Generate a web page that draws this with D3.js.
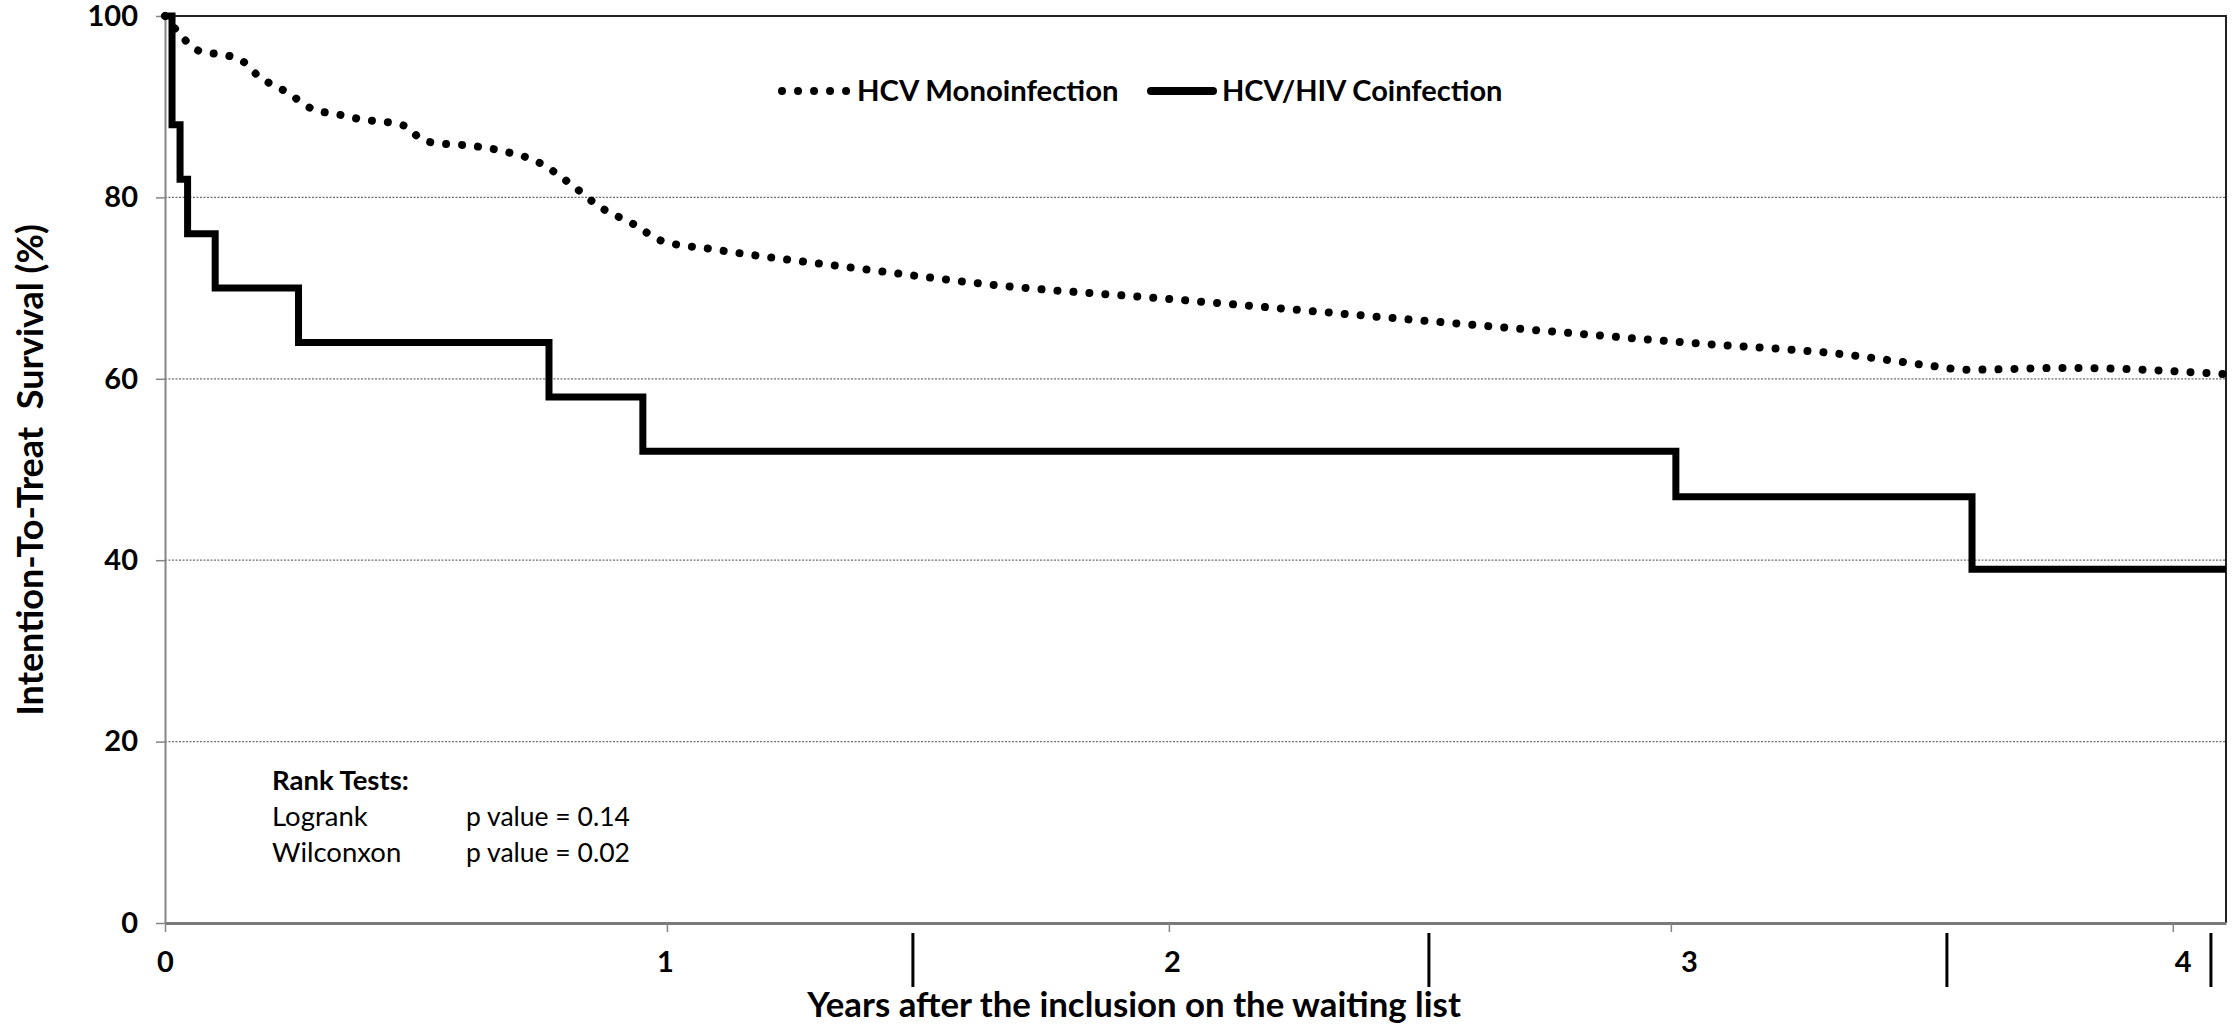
<!DOCTYPE html>
<html><head><meta charset="utf-8">
<script src="https://cdn.jsdelivr.net/npm/d3@7"></script>
<style>
body{margin:0;background:#fff}
svg{display:block}
text{font-family:Lato,'Open Sans',sans-serif;fill:#000}
</style>
</head><body>
<svg id="chart" width="2236" height="1027"></svg>
<script>
// ---- data ----
const monoYears = [0, 0.014, 0.030, 0.048, 0.076, 0.108, 0.139, 0.165, 0.185, 0.215, 0.243, 0.269, 0.295, 0.327, 0.359, 0.390, 0.422, 0.454, 0.484, 0.508, 0.538, 0.61, 0.665, 0.75, 0.81, 0.865, 0.935, 0.99, 1.09, 1.376, 1.66, 2.0, 2.51, 3.03, 3.36, 3.51, 3.59, 3.79, 4.106];
const monoSurvival = [100, 99.0, 98.0, 96.9, 96.0, 95.8, 95.4, 94.6, 93.4, 92.4, 91.6, 90.6, 89.7, 89.3, 89.0, 88.6, 88.4, 88.2, 87.7, 86.5, 86.0, 85.7, 85.2, 83.7, 81.4, 79.0, 77.0, 75.2, 74.3, 72.2, 70.3, 68.8, 66.4, 64.0, 62.6, 61.5, 61.0, 61.2, 60.5];
const coinfYears = [0, 0.014, 0.030, 0.045, 0.100, 0.266, 0.765, 0.952, 3.01, 3.60, 4.106];
const coinfSurvival = [100, 88, 82, 76, 70, 64, 58, 52, 47, 39, 39];
const yTicks = [0, 20, 40, 60, 80, 100];
const xTicks = [0, 1, 2, 3, 4];
const xTickLabels = ["0", "1", "2", "3", "4"];
const markerYears = [1.49, 2.518, 3.55, 4.076];
const legendLabels = ["HCV Monoinfection", "HCV/HIV Coinfection"];
const rankTitle = "Rank Tests:";
const rankNames = ["Logrank", "Wilconxon"];
const rankValues = ["p value = 0.14", "p value = 0.02"];
const xTitle = "Years after the inclusion on the waiting list";
const yTitle = "Intention-To-Treat  Survival (%)";

// ---- layout ----
const L = 165, R = 2226, T = 16, B = 923;
const svg = d3.select("#chart");
const x = d3.scaleLinear().domain([0, 4.106]).range([L, R]);
const y = d3.scaleLinear().domain([0, 100]).range([B, T]);

// gridlines
svg.append("g").selectAll("line").data(yTicks.filter(d => d > 0 && d < 100)).join("line")
  .attr("x1", L).attr("x2", R).attr("y1", d => y(d)).attr("y2", d => y(d))
  .attr("stroke", "#6e6e6e").attr("stroke-width", 1.3).attr("stroke-dasharray", "2,1.5");

// plot border top/right
svg.append("path").attr("d", `M${L},${y(100)}H${R}V${B}`)
  .attr("fill", "none").attr("stroke", "#222").attr("stroke-width", 2);

// y axis
const gy = svg.append("g").attr("transform", `translate(${L},0)`)
  .call(d3.axisLeft(y).tickValues(yTicks).tickSize(9).tickSizeOuter(0).tickPadding(18));
gy.select(".domain").attr("stroke", "#858585").attr("stroke-width", 2);
gy.selectAll(".tick line").attr("stroke", "#858585").attr("stroke-width", 1.5);
gy.selectAll(".tick text").attr("font-size", 29).attr("font-weight", 700)
  .attr("font-family", "Lato,'Open Sans',sans-serif").attr("fill", "#000");

// x axis
const gx = svg.append("g").attr("transform", `translate(0,${B})`)
  .call(d3.axisBottom(x).tickValues(xTicks).tickSize(9).tickSizeOuter(0).tickFormat((d, i) => xTickLabels[i]));
gx.select(".domain").attr("stroke", "#7a7a7a").attr("stroke-width", 3);
gx.selectAll(".tick line").attr("stroke", "#858585").attr("stroke-width", 1.5);
const labelShift = [0, -2, 3, 18, 10];
gx.selectAll(".tick text").attr("font-size", 29).attr("font-weight", 700)
  .attr("font-family", "Lato,'Open Sans',sans-serif").attr("fill", "#000")
  .attr("y", 39).attr("dy", "0.35em").attr("dx", (d, i) => labelShift[i]);

// marker bars below axis
svg.append("g").selectAll("line").data(markerYears).join("line")
  .attr("x1", d => x(d)).attr("x2", d => x(d)).attr("y1", B + 10).attr("y2", B + 64)
  .attr("stroke", "#000").attr("stroke-width", 3);

// curves
const mono = monoYears.map((t, i) => [t, monoSurvival[i]]);
const coinf = coinfYears.map((t, i) => [t, coinfSurvival[i]]);
const lineMono = d3.line().x(d => x(d[0])).y(d => y(d[1])).curve(d3.curveMonotoneX);
const lineCoinf = d3.line().x(d => x(d[0])).y(d => y(d[1])).curve(d3.curveStepAfter);

svg.append("path").datum(coinf).attr("d", lineCoinf)
  .attr("fill", "none").attr("stroke", "#000").attr("stroke-width", 7)
  .attr("stroke-linejoin", "miter");
svg.append("path").datum(mono).attr("d", lineMono)
  .attr("fill", "none").attr("stroke", "#000").attr("stroke-width", 8)
  .attr("stroke-linecap", "round").attr("stroke-dasharray", "0.01,16");

// legend
const leg = svg.append("g");
leg.append("line").attr("x1", 782).attr("x2", 848).attr("y1", 91).attr("y2", 91)
  .attr("stroke", "#000").attr("stroke-width", 8).attr("stroke-linecap", "round")
  .attr("stroke-dasharray", "0.01,16");
leg.append("text").attr("x", 857).attr("y", 91).attr("dy", "0.35em")
  .attr("font-size", 29.3).attr("font-weight", 700).text(legendLabels[0]);
leg.append("line").attr("x1", 1151).attr("x2", 1213).attr("y1", 91).attr("y2", 91)
  .attr("stroke", "#000").attr("stroke-width", 8).attr("stroke-linecap", "round");
leg.append("text").attr("x", 1222).attr("y", 91).attr("dy", "0.35em")
  .attr("font-size", 29).attr("font-weight", 700).text(legendLabels[1]);

// rank tests text
const rk = svg.append("g");
rk.append("text").attr("x", 272).attr("y", 790).attr("font-size", 27.5).attr("font-weight", 700).text(rankTitle);
rk.selectAll("text.n").data(rankNames).join("text").attr("class", "n")
  .attr("x", 272).attr("y", (d, i) => 826 + i * 35.5).attr("font-size", 27.5).text(d => d);
rk.selectAll("text.v").data(rankValues).join("text").attr("class", "v")
  .attr("x", 466).attr("y", (d, i) => 826 + i * 35.5).attr("font-size", 26.5).text(d => d);

// axis titles
svg.append("text").attr("x", 1134).attr("y", 1017).attr("text-anchor", "middle")
  .attr("font-size", 34.8).attr("font-weight", 700).text(xTitle);
svg.append("text").attr("transform", "translate(43,470) rotate(-90)").attr("text-anchor", "middle")
  .attr("font-size", 36).attr("font-weight", 700).style("white-space", "pre").text(yTitle);
</script>
</body></html>
